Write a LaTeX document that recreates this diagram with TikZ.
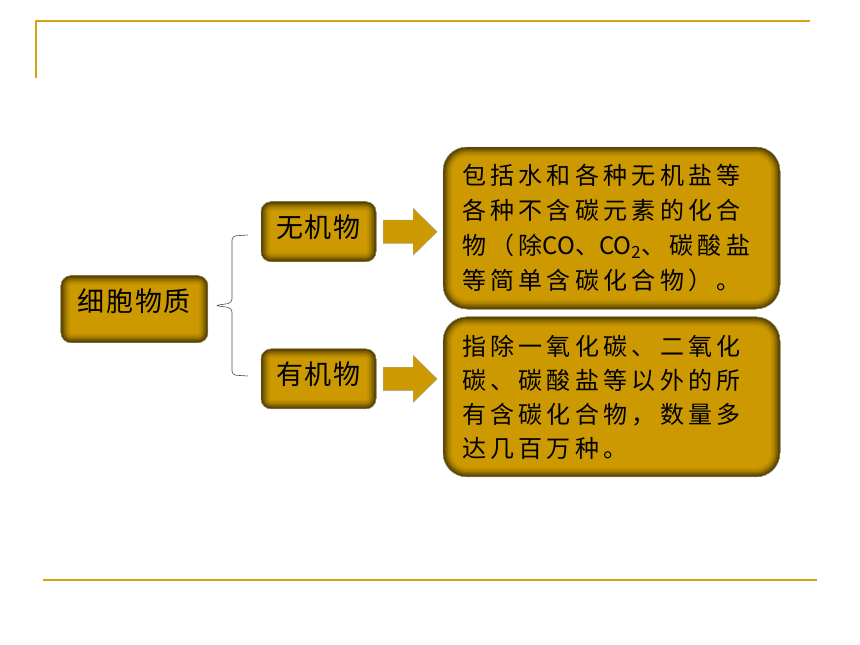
\documentclass[tikz,border=0pt]{standalone}
\usepackage{fontspec}
\setmainfont{Noto Sans CJK SC}
\newfontfamily\widefont[LetterSpace=18]{Noto Sans CJK SC}
\newfontfamily\midfont[LetterSpace=6]{Noto Sans CJK SC}
\definecolor{gold}{RGB}{204,153,0}
\definecolor{rulegold}{RGB}{214,163,20}
\tikzset{
  goldbox/.style={draw=gray!60, fill=gold, rounded corners=#1, inner sep=0pt,
    path picture={
      \foreach \w/\c in {18/94,14/84,10/72,7/60,4/48,2/38}
        \draw[line width=\w pt, draw=gold!\c!black, rounded corners=#1, shift={(1.5,2.5)}]
          (path picture bounding box.south west) rectangle (path picture bounding box.north east);
    }},
  blockarrow/.style={draw=gray!70, fill=gold},
  bracestyle/.style={draw=black!70, line width=0.6pt, rounded corners=4pt},
  rulestyle/.style={draw=rulegold, line width=2pt}
}
\begin{document}
\begin{tikzpicture}[x=1pt,y=-1pt]
      \useasboundingbox (0,0) rectangle (860,645);
      \draw[rulestyle] (36,78)--(36,21)--(810,21);
      \draw[rulestyle] (43,580)--(817,580);
      \node[goldbox=10pt, minimum width=147pt, minimum height=67pt, text depth=18pt, font=\midfont\fontsize{27}{30}\selectfont] (cell) at (134.4,309.2) {细胞物质};
      \node[goldbox=10pt, minimum width=115pt, minimum height=60pt, text depth=12pt, font=\midfont\fontsize{27}{30}\selectfont] (wuji) at (318.5,231.7) {无机物};
      \node[goldbox=10pt, minimum width=115pt, minimum height=60pt, text depth=12pt, font=\midfont\fontsize{27}{30}\selectfont] (youji) at (318.5,378.9) {有机物};
      \node[goldbox=24pt, minimum width=337pt, minimum height=162pt, text width=299pt, align=left, font=\widefont\fontsize{24}{35}\selectfont] (wujitext) at (611.5,228) {包括水和各种无机盐等\\各种不含碳元素的化合\\物（除{\normalfont CO}、{\normalfont CO\textsubscript{2}}、碳酸盐\\等简单含碳化合物）。};
      \node[goldbox=24pt, minimum width=337pt, minimum height=160pt, text width=299pt, align=left, font=\widefont\fontsize{24}{34}\selectfont] (youjitext) at (611.5,396.9) {指除一氧化碳、二氧化\\碳、碳酸盐等以外的所\\有含碳化合物，数量多\\达几百万种。};
      \draw[blockarrow] ([xshift=7pt]wuji.east) ++(0,-11.7)--++(30,0)--++(0,-11.8)--++(24,23.5)--++(-24,23.5)--++(0,-11.8)--++(-30,0)--cycle;
      \draw[blockarrow] ([xshift=7pt]youji.east) ++(0,-11.7)--++(30,0)--++(0,-11.8)--++(24,23.5)--++(-24,23.5)--++(0,-11.8)--++(-30,0)--cycle;
      \coordinate (bt) at (248,235);
      \coordinate (bb) at (248,376);
      \coordinate (tip) at (215,305.5);
      \draw[bracestyle] (bt)--(232,236)--(232,303)--(tip)--(232,308)--(232,375)--(bb);
    \end{tikzpicture}
\end{document}
